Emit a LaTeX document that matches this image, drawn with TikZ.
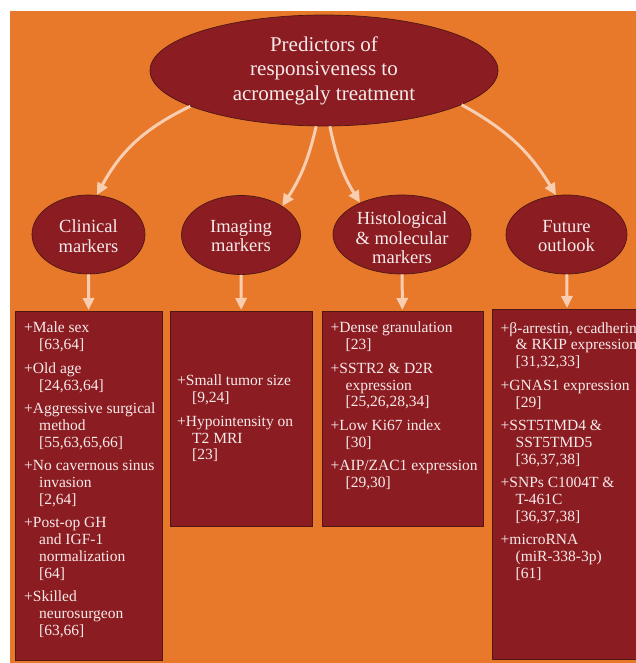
\documentclass[tikz,border=0pt]{standalone}
\usepackage{fontspec}
\setmainfont{Liberation Serif}
\usetikzlibrary{arrows.meta,shapes.geometric}

\definecolor{bgorange}{HTML}{E8792B}
\definecolor{darkred}{HTML}{8B1D22}
\definecolor{peach}{HTML}{F8CDB0}
\definecolor{paletext}{HTML}{F7EAEA}
\definecolor{edgebrown}{HTML}{4E1712}

\newcommand{\ind}{\hspace*{15pt}}

\begin{document}
\begin{tikzpicture}[x=1pt,y=-1pt,>=Latex,
	topell/.style={ellipse, fill=darkred, draw=edgebrown, line width=0.7pt, inner sep=0pt,
		minimum width=348pt, minimum height=111pt, text=paletext, align=center,
		font=\fontsize{21}{24.5}\selectfont},
	subell/.style={ellipse, fill=darkred, draw=edgebrown, line width=0.7pt, inner sep=0pt,
		minimum height=79pt},
	elltext/.style={text=paletext, align=center, inner sep=0pt,
		font=\fontsize{18.5}{19.5}\selectfont},
	listbox/.style={rectangle, fill=darkred, draw=edgebrown, line width=0.6pt,
		inner sep=0pt, anchor=north west},
	listtext/.style={text=paletext, align=left, inner sep=0pt, anchor=north west,
		font=\fontsize{15.5}{16.8}\selectfont},
	arr/.style={peach, line width=3pt, -{Triangle[length=12pt,width=11pt]}}]
	
	% --- Page and background
	\useasboundingbox (0,0) rectangle (636,663);
	\fill[white] (0,0) rectangle (636,663);
	\fill[bgorange] (10,11) rectangle (640,667);
	
	% --- Main ellipse
	\node[topell] (pred) at (324,70.5) {Predictors of\\responsiveness to\\acromegaly treatment};
	
	% --- Category ellipses
	\node[subell, minimum width=113pt] (clin) at (88.5,234.5) {};
	\node[subell, minimum width=119pt] (imag) at (241,235) {};
	\node[subell, minimum width=138pt] (hist) at (402,234.5) {};
	\node[subell, minimum width=121pt] (fut) at (566.5,234.5) {};
	\node[elltext] (clintxt) at (88.5,236) {Clinical\\markers};
	\node[elltext] (imagtxt) at (241,236) {Imaging\\markers};
	\node[elltext] (histtxt) at (402,238) {Histological\\\& molecular\\markers};
	\node[elltext] (futtxt) at (566.5,236) {Future\\outlook};
	
	% --- List boxes
	\node[listbox, minimum width=147pt, minimum height=349pt] (clinbox) at (15,311) {};
	\node[listbox, minimum width=142pt, minimum height=215pt] (imagbox) at (170,311) {};
	\node[listbox, minimum width=161pt, minimum height=215pt] (histbox) at (322,311) {};
	\node[listbox, minimum width=152pt, minimum height=350pt] (futbox) at (492,309) {};
	
	% --- List texts
	\node[listtext] (clinlist) at (24,322) {%
		+Male sex\\\ind[63,64]\\[6.7pt]
		+Old age\\\ind[24,63,64]\\[6.7pt]
		+Aggressive surgical\\\ind method\\\ind[55,63,65,66]\\[6.7pt]
		+No cavernous sinus\\\ind invasion\\\ind[2,64]\\[6.7pt]
		+Post-op GH\\\ind and IGF-1\\\ind normalization\\\ind[64]\\[6.7pt]
		+Skilled\\\ind neurosurgeon\\\ind[63,66]};
	\node[listtext] (imaglist) at (177,375) {%
		+Small tumor size\\\ind[9,24]\\[6.7pt]
		+Hypointensity on\\\ind T2 MRI\\\ind[23]};
	\node[listtext] (histlist) at (330.5,322) {%
		+Dense granulation\\\ind[23]\\[6.7pt]
		+SSTR2 \& D2R\\\ind expression\\\ind[25,26,28,34]\\[6.7pt]
		+Low Ki67 index\\\ind[30]\\[6.7pt]
		+AIP/ZAC1 expression\\\ind[29,30]};
	\node[listtext] (futlist) at (500.5,322) {%
		+β-arrestin, ecadherin\\\ind\& RKIP expression\\\ind[31,32,33]\\[6.7pt]
		+GNAS1 expression\\\ind[29]\\[6.7pt]
		+SST5TMD4 \&\\\ind SST5TMD5\\\ind[36,37,38]\\[6.7pt]
		+SNPs C1004T \&\\\ind T-461C\\\ind[36,37,38]\\[6.7pt]
		+microRNA\\\ind(miR-338-3p)\\\ind[61]};
	
	% --- Curved arrows from the main ellipse
	\draw[arr] (pred.195) to[bend right=18] (clin.78);
	\draw[arr] (pred.262) to[bend left=10] (imag.35);
	\draw[arr] (pred.276) to[bend right=10] (hist.143);
	\draw[arr] (pred.346) to[bend left=15] (fut.105);
	
	% --- Straight arrows down to the boxes
	\draw[arr, shorten >=1pt] (clin) -- (clinbox);
	\draw[arr, shorten >=1pt] (imag) -- (imagbox);
	\draw[arr, shorten >=1pt] (hist) -- (histbox);
	\draw[arr, shorten >=1pt] (fut) -- (futbox);
	
\end{tikzpicture}
\end{document}
